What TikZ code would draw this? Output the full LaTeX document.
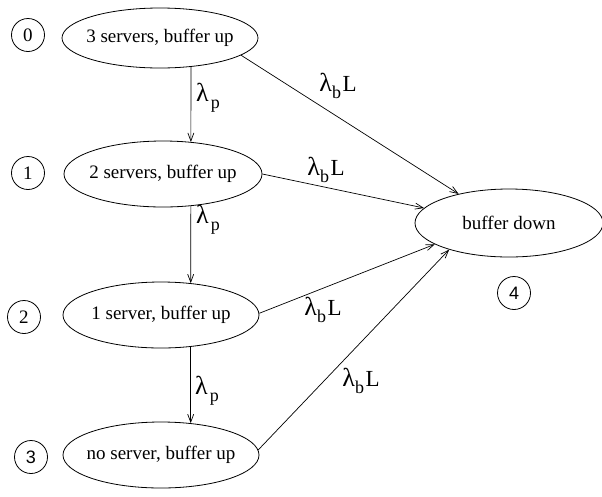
\documentclass[tikz,border=0pt]{standalone}
\usepackage{fontspec}
\setmainfont{Liberation Serif}
\newfontfamily\numsans{Liberation Sans}
\usetikzlibrary{shapes.geometric,arrows.meta}
\newcommand\mylam{{\fontsize{26}{26}\selectfont λ}}
\newcommand\mylamp{\mylam\kern2pt\raisebox{-0.3em}{\fontsize{18}{18}\selectfont p}}
\newcommand\mylambL{\mylam\raisebox{-0.28em}{\fontsize{18}{18}\selectfont b}\kern1.5pt L}
\newcommand\mytxt[1]{\makebox[0pt]{#1}}
\begin{document}
\begin{tikzpicture}[x=1pt,y=-1pt,
  stbox/.style={ellipse, draw, line width=0.8pt, inner sep=0pt,
    minimum width=196pt, minimum height=66pt, font=\fontsize{19}{22}\selectfont},
  idx/.style={circle, draw, line width=0.8pt, minimum size=33pt, inner sep=0pt,
    font=\fontsize{19}{22}\selectfont},
  lab/.style={inner sep=0pt, font=\fontsize{23}{25}\selectfont},
  arr/.style={-{Straight Barb[length=8pt,width=6pt]}, line width=0.7pt}]
\useasboundingbox (0,0) rectangle (602,496);
\node[stbox, minimum height=60pt] (e0) at (160,38) {\mytxt{3 servers, buffer up}};
\node[stbox, minimum width=198pt] (e1) at (163,174) {\mytxt{2 servers, buffer up}};
\node[stbox] (e2) at (161,315) {\mytxt{1 server, buffer up}};
\node[stbox] (e3) at (161,455) {\mytxt{no server, buffer up}};
\node[stbox, minimum width=188pt, minimum height=68pt] (e4) at (509,223) {\mytxt{buffer down}};
\node[idx] (c0) at (28,35) {0};
\node[idx] (c1) at (28,173) {1};
\node[idx] (c2) at (24,317) {2};
\node[idx, font=\fontsize{18}{22}\numsans] (c3) at (31,457) {3};
\node[idx, font=\fontsize{18}{22}\numsans] (c4) at (514,293) {4};
\draw[arr] (e0.-43.6) -- (e1.49.6);
\draw[arr] (e1.-49.6) -- (e2.47.4);
\draw[arr] (e2.-47.4) -- (e3.47.4);
\draw[arr] (e0.-12) -- (e4.150);
\draw[arr] (e1.0) -- (e4.170);
\draw[arr] (e2.1) -- (e4.196);
\draw[arr] (e3.3) -- (e4.204);
\node[lab, anchor=west] (p1) at (196,98) {\mylamp};
\node[lab, anchor=west] (p2) at (196,220) {\mylamp};
\node[lab, anchor=west] (p3) at (195,391) {\mylamp};
\node[lab] (b0) at (338,86) {\mylambL};
\node[lab] (b1) at (326,170) {\mylambL};
\node[lab] (b2) at (323,310) {\mylambL};
\node[lab] (b3) at (361,381) {\mylambL};
\end{tikzpicture}
\end{document}
